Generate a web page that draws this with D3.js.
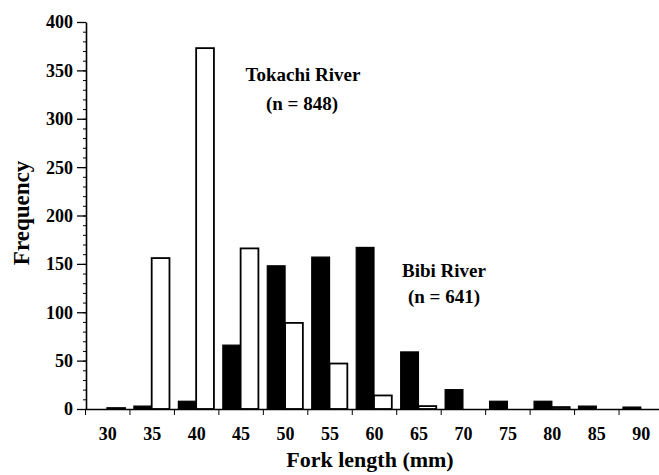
<!DOCTYPE html>
<meta charset="utf-8">
<script src="https://d3js.org/d3.v7.min.js"></script>
<style>
  body { margin: 0; background: #fff; }
  text { font-family: "Liberation Serif", "DejaVu Serif", serif; font-weight: bold; fill: #000; }
</style>
<div id="chart"></div>
<script>
// fork length classes (mm) and counts per river
var lengths = [30, 35, 40, 45, 50, 55, 60, 65, 70, 75, 80, 85, 90];
var bibi    = [0, 3, 8, 66, 148, 157, 167, 59, 20, 8, 8, 3, 2];
var tokachi = [1, 156, 373, 166, 89, 47, 14, 3, 0, 0, 2, 0, 0];
var yTicks  = [0, 50, 100, 150, 200, 250, 300, 350, 400];

var width = 659, height = 475;

var svg = d3.select("#chart").append("svg")
    .attr("width", width)
    .attr("height", height);

var x = d3.scaleLinear().domain([27.5, 92.5]).range([85, 663]);
var y = d3.scaleLinear().domain([0, 400]).range([409, 22]);

// bars: Bibi (black) left half of class, Tokachi (white) right half
var data = lengths.map(function(d, i) { return {len: d, bibi: bibi[i], tokachi: tokachi[i]}; });

svg.selectAll("rect.bibi")
  .data(data.filter(function(d) { return d.bibi > 0; }))
  .enter().append("rect")
    .attr("class", "bibi")
    .attr("x", function(d) { return x(d.len - 2); })
    .attr("width", function(d) { return x(d.len) - x(d.len - 2); })
    .attr("y", function(d) { return y(d.bibi); })
    .attr("height", function(d) { return y(0) - y(d.bibi); })
    .attr("fill", "#000")
    .attr("stroke", "#000")
    .attr("stroke-width", 1.2);

svg.selectAll("rect.tok")
  .data(data.filter(function(d) { return d.tokachi > 0; }))
  .enter().append("rect")
    .attr("class", "tok")
    .attr("x", function(d) { return x(d.len); })
    .attr("width", function(d) { return x(d.len + 2) - x(d.len); })
    .attr("y", function(d) { return y(d.tokachi); })
    .attr("height", function(d) { return y(0) - y(d.tokachi); })
    .attr("fill", "#fff")
    .attr("stroke", "#000")
    .attr("stroke-width", 1.8);

// y axis: minor ticks every 10, major every 50
var yx = 86;
svg.append("g")
  .attr("transform", "translate(" + yx + ",0)")
  .call(d3.axisLeft(y).tickValues(d3.range(0, 401, 10)).tickSize(3).tickFormat(""))
  .call(function(g) { g.select(".domain").remove(); g.selectAll("line").attr("stroke-width", 1); });

svg.append("g")
  .attr("transform", "translate(" + yx + ",0)")
  .call(d3.axisLeft(y).tickValues(yTicks).tickSize(9).tickSizeOuter(0).tickPadding(4))
  .call(function(g) {
    g.select(".domain").attr("stroke-width", 1.6);
    g.selectAll("line").attr("stroke-width", 1.3);
    g.selectAll("text").style("font-size", "18px").style("font-family", "Liberation Serif").attr("dy", "0.33em");
  });

// x axis: ticks on class boundaries, labels on class centres
svg.append("g")
  .attr("transform", "translate(0," + y(0) + ")")
  .call(d3.axisBottom(x).tickValues(d3.range(27.5, 93, 5)).tickSize(6).tickSizeOuter(0).tickFormat(""))
  .call(function(g) {
    g.select(".domain").attr("stroke-width", 1.6);
    g.selectAll("line").attr("stroke-width", 1);
  });

svg.append("g")
  .attr("transform", "translate(0," + y(0) + ")")
  .call(d3.axisBottom(x).tickValues(lengths).tickSize(0).tickPadding(18))
  .call(function(g) {
    g.select(".domain").remove();
    g.selectAll("text").style("font-size", "18px").style("font-family", "Liberation Serif");
  });

// axis titles
svg.append("text")
  .attr("x", 370).attr("y", 467)
  .attr("text-anchor", "middle")
  .style("font-size", "22px")
  .text("Fork length (mm)");

svg.append("text")
  .attr("transform", "translate(29,213) rotate(-90)")
  .attr("text-anchor", "middle")
  .style("font-size", "23px")
  .text("Frequency");

// river annotations
svg.append("text").attr("x", 303).attr("y", 81).attr("text-anchor", "middle")
  .style("font-size", "19px").text("Tokachi River");
svg.append("text").attr("x", 302).attr("y", 110).attr("text-anchor", "middle")
  .style("font-size", "19px").text("(n = 848)");
svg.append("text").attr("x", 444).attr("y", 277).attr("text-anchor", "middle")
  .style("font-size", "19px").text("Bibi River");
svg.append("text").attr("x", 444).attr("y", 303).attr("text-anchor", "middle")
  .style("font-size", "19px").text("(n = 641)");
</script>
